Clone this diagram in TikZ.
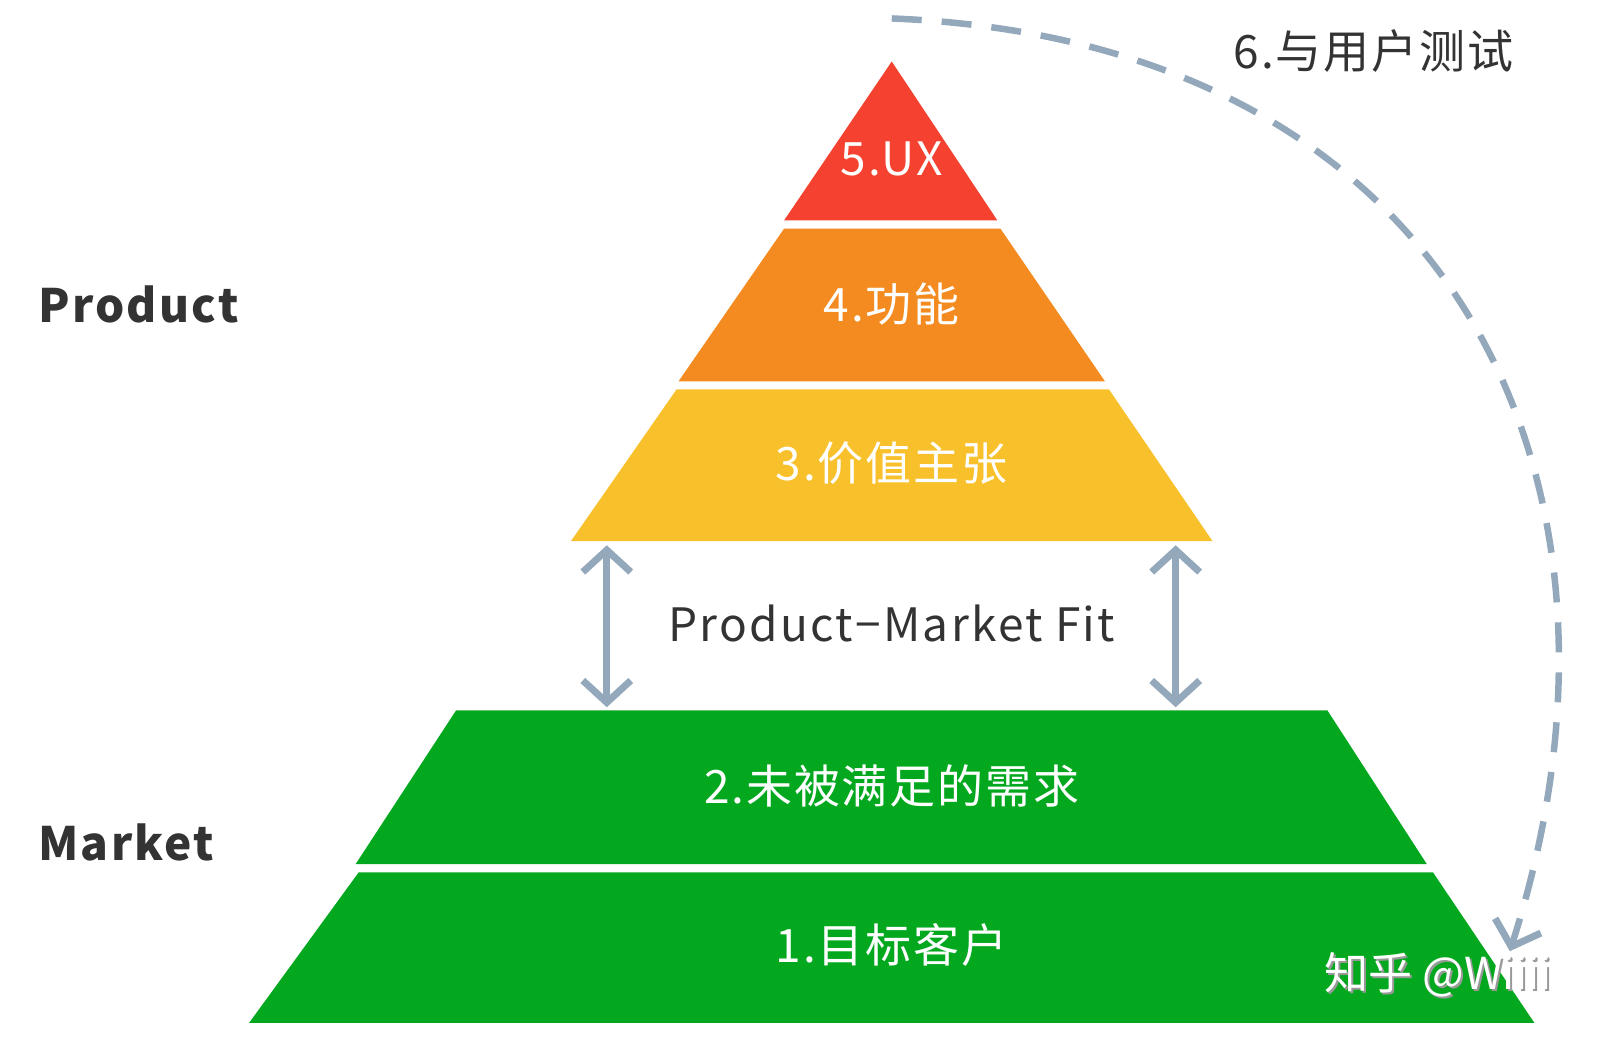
\documentclass[tikz,border=0pt]{standalone}
\usepackage{fontspec}
\setmainfont{Noto Sans CJK SC}
\usetikzlibrary{arrows.meta}
\definecolor{cred}{HTML}{F5412F}
\definecolor{corange}{HTML}{F38B20}
\definecolor{cyellow}{HTML}{F8C12B}
\definecolor{cgreen}{HTML}{03A81F}
\definecolor{cblue}{HTML}{94A8BC}
\definecolor{ctext}{HTML}{333333}
\begin{document}
\begin{tikzpicture}[x=1.025pt,y=-1.025pt,
  lvl/.style={text=white,font=\fontsize{46}{50}\selectfont\addfontfeature{LetterSpace=4}},
  side/.style={text=ctext,font=\fontsize{46}{50}\selectfont\bfseries\addfontfeature{LetterSpace=5},anchor=west},
  barb/.tip={Straight Barb[length=22pt,width=48pt,line width=7pt]},
  pmf/.style={draw=cblue,line width=7pt,barb-barb}]
\useasboundingbox (0,0) rectangle (1561,1015);
\fill[cred] (870,60) -- (973,215) -- (765,215) -- cycle;
\fill[corange] (765,223) -- (976,223) -- (1078,372) -- (662,372) -- cycle;
\fill[cyellow] (660,380) -- (1082,380) -- (1183,528) -- (557,528) -- cycle;
\fill[cgreen] (445,693) -- (1295,693) -- (1392,843) -- (347,843) -- cycle;
\fill[cgreen] (350,851) -- (1398,851) -- (1497,998) -- (243,998) -- cycle;
\node[lvl] (l5) at (870,155) {5.UX};
\node[lvl] (l4) at (870,297) {4.功能};
\node[lvl] (l3) at (870,452) {3.价值主张};
\node[lvl] (l2) at (870,767) {2.未被满足的需求};
\node[lvl] (l1) at (870,922) {1.目标客户};
\node[side] (prod) at (34,297) {Product};
\node[side] (mkt) at (34,822) {Market};
\node[text=ctext,font=\fontsize{46}{50}\selectfont\addfontfeature{LetterSpace=5}] (fit) at (870,608) {Product−Market Fit};
\node[text=ctext,font=\fontsize{46}{50}\selectfont\addfontfeature{LetterSpace=4}] (test) at (1340,50) {6.与用户测试};
\coordinate (a1) at (592,532); \coordinate (b1) at (592,690);
\coordinate (a2) at (1147,532); \coordinate (b2) at (1147,690);
\draw[pmf] (a1) -- (b1);
\draw[pmf] (a2) -- (b2);
\coordinate (cs) at (870,18); \coordinate (ce) at (1473,928);
\draw[cblue,line width=6.5pt,dash pattern=on 30pt off 20pt,-barb]
  (cs) .. controls (1420,40) and (1620,470) .. (ce);
\node[text=black!40,font=\fontsize{44}{48}\selectfont] at (1405,953) {知乎 @Wiiii};
\node[text=white,font=\fontsize{44}{48}\selectfont] (wm) at (1403,951) {知乎 @Wiiii};
\end{tikzpicture}
\end{document}
